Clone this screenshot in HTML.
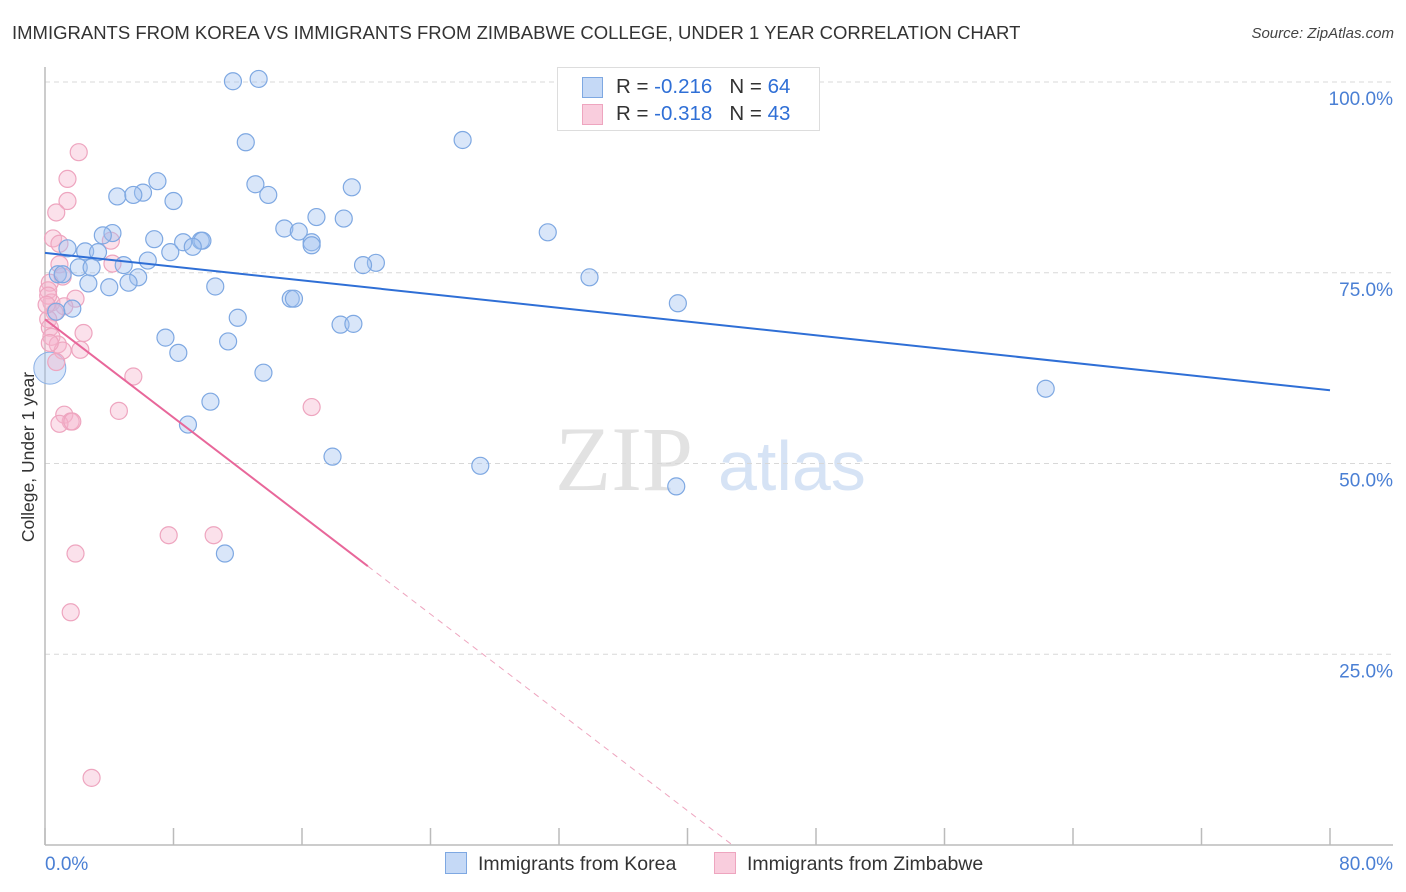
<!DOCTYPE html>
<html><head><meta charset="utf-8"><style>
body{margin:0;background:#fff;font-family:"Liberation Sans",sans-serif}
#wrap{position:relative;width:1406px;height:892px;overflow:hidden}
.t{position:absolute;white-space:nowrap}
</style></head><body><div id="wrap">
<div class="t" style="left:12px;top:22px;font-size:18.5px;color:#333">IMMIGRANTS FROM KOREA VS IMMIGRANTS FROM ZIMBABWE COLLEGE, UNDER 1 YEAR CORRELATION CHART</div>
<div class="t" style="right:12px;top:25px;font-size:15px;color:#444;font-style:italic">Source: ZipAtlas.com</div>
<svg id="svg" width="1406" height="892" style="position:absolute;left:0;top:0"></svg>
</div>
<script>
const koreaX=[11.7,13.3,12.5,26.0,13.1,13.9,19.1,7.0,6.1,4.5,5.5,8.0,16.9,18.6,14.9,15.8,16.6,16.6,31.3,6.8,8.6,9.7,9.8,9.2,4.2,3.6,1.4,2.5,3.3,7.8,6.4,20.6,19.8,33.9,2.1,2.9,4.9,0.8,1.1,5.8,2.7,5.2,4.0,10.6,15.3,15.5,39.4,1.7,0.7,12.0,18.4,19.2,7.5,11.4,8.3,13.6,62.3,10.3,8.9,17.9,27.1,39.3,11.2];
const koreaY=[100.1,100.4,92.1,92.4,86.6,85.2,86.2,87.0,85.5,85.0,85.2,84.4,82.3,82.1,80.8,80.4,79.0,78.6,80.3,79.4,79.0,79.2,79.2,78.4,80.2,79.9,78.2,77.8,77.7,77.7,76.6,76.3,76.0,74.4,75.7,75.7,76.0,74.8,74.8,74.4,73.6,73.7,73.1,73.2,71.6,71.6,71.0,70.3,69.9,69.1,68.2,68.3,66.5,66.0,64.5,61.9,59.8,58.1,55.1,50.9,49.7,47.0,38.2];
const zimX=[2.1,1.4,1.4,0.7,0.5,0.9,4.1,4.2,0.9,1.1,0.3,0.2,1.9,0.4,1.2,0.6,0.2,0.3,2.4,0.4,0.8,1.1,2.2,0.7,5.5,4.6,16.6,1.2,1.6,0.9,1.7,7.7,10.5,1.9,1.6,2.9,0.2,0.1,0.3];
const zimY=[90.8,87.3,84.4,82.9,79.5,78.8,79.2,76.2,76.1,74.5,73.7,72.7,71.6,71.1,70.6,69.8,68.9,67.8,67.1,66.6,65.6,64.8,64.9,63.3,61.4,56.9,57.4,56.4,55.5,55.2,55.5,40.6,40.6,38.2,30.5,8.8,72.0,70.8,65.8];
const koreaTrend=[77.6,59.6];
const zimTrend=[68.9,-1.61];
const yTicks=[25,50,75,100];
const yTickLabels=["25.0%","50.0%","75.0%","100.0%"];
const xTicks=[0,8,16,24,32,40,48,56,64,72,80];
const X0=45,X1=1330,Y0=845,Y1=82;
const sx=v=>X0+v*(X1-X0)/80, sy=v=>Y0-v*(Y0-Y1)/100;
const svg=document.getElementById('svg');const NS='http://www.w3.org/2000/svg';
function mk(t,a,p){const e=document.createElementNS(NS,t);for(const k in a)e.setAttribute(k,a[k]);(p||svg).appendChild(e);return e;}
let w=mk('text',{x:555,y:490,'font-size':92,'font-family':'Liberation Serif,serif',fill:'#e2e2e2'});w.textContent='ZIP';


w=mk('text',{x:718,y:490,'font-size':70,'font-family':'Liberation Sans,sans-serif',fill:'#d6e3f5'});w.textContent='atlas';


yTicks.forEach((v,i)=>{
 const g=mk('line',{x1:X0,x2:1393,y1:sy(v),y2:sy(v),stroke:'#d8d8d8','stroke-dasharray':'5,4'});
 
 
 const t=mk('text',{x:1393,y:sy(v)+23,'text-anchor':'end','font-size':19,fill:'#4a7fd4'});t.textContent=yTickLabels[i];
 
 
});
let ax=mk('line',{x1:X0,x2:X0,y1:67,y2:Y0,stroke:'#bbb','stroke-width':1.5});


ax=mk('line',{x1:X0,x2:1393,y1:Y0,y2:Y0,stroke:'#bbb','stroke-width':1.5});


xTicks.forEach(v=>{const l=mk('line',{x1:sx(v),x2:sx(v),y1:Y0,y2:Y0-17,stroke:'#bbb','stroke-width':1.5});
 
 });
let xl=mk('text',{x:45,y:870,'font-size':19,fill:'#4a7fd4'});xl.textContent='0.0%';


xl=mk('text',{x:1393,y:870,'text-anchor':'end','font-size':19,fill:'#4a7fd4'});xl.textContent='80.0%';


let yt=mk('text',{x:0,y:0,transform:'translate(34,457) rotate(-90)','text-anchor':'middle','font-size':17.5,fill:'#333'});yt.textContent='College, Under 1 year';


let big=mk('circle',{cx:sx(0.3),cy:sy(62.5),r:16,fill:'rgba(160,192,240,0.4)',stroke:'#8ab0e6'});


zimX.forEach((x,i)=>{const c=mk('circle',{cx:sx(x),cy:sy(zimY[i]),r:8.5,fill:'rgba(246,180,204,0.4)',stroke:'#eea5bf','stroke-width':1.2});
 
 });
koreaX.forEach((x,i)=>{const c=mk('circle',{cx:sx(x),cy:sy(koreaY[i]),r:8.5,fill:'rgba(160,192,240,0.4)',stroke:'#7ea8e2','stroke-width':1.2});
 
 });
let tl=mk('line',{x1:sx(0),y1:sy(koreaTrend[0]),x2:sx(80),y2:sy(koreaTrend[1]),stroke:'#2f6fd6','stroke-width':2});


const zx1=20.1,zx2=-zimTrend[0]/zimTrend[1];
tl=mk('line',{x1:sx(0),y1:sy(zimTrend[0]),x2:sx(zx1),y2:sy(zimTrend[0]+zimTrend[1]*zx1),stroke:'#e8679a','stroke-width':2});


tl=mk('line',{x1:sx(zx1),y1:sy(zimTrend[0]+zimTrend[1]*zx1),x2:sx(zx2),y2:sy(0),stroke:'#eea5bf','stroke-width':1,'stroke-dasharray':'6,5'});


</script>
<div class="t" style="left:557px;top:67px;width:261px;height:62px;border:1px solid #ddd;background:#fff;font-size:20.5px;color:#333">
 <div style="position:absolute;left:26px;top:7px"><span style="display:inline-block;width:19px;height:19px;background:#c5d9f6;border:1px solid #7ea8e2;position:absolute;left:-2px;top:2px"></span><span style="margin-left:32px">R = <span style="color:#2f6fd6">-0.216</span>&nbsp;&nbsp;&nbsp;N = <span style="color:#2f6fd6">64</span></span></div>
 <div style="position:absolute;left:26px;top:34px"><span style="display:inline-block;width:19px;height:19px;background:#f9cddd;border:1px solid #eea5bf;position:absolute;left:-2px;top:2px"></span><span style="margin-left:32px">R = <span style="color:#2f6fd6">-0.318</span>&nbsp;&nbsp;&nbsp;N = <span style="color:#2f6fd6">43</span></span></div>
</div>
<div class="t" style="left:445px;top:852px;font-size:19.5px;color:#333"><span style="display:inline-block;width:20px;height:20px;background:#c5d9f6;border:1px solid #7ea8e2;vertical-align:-4px;margin-right:11px"></span>Immigrants from Korea</div>
<div class="t" style="left:714px;top:852px;font-size:19.5px;color:#333"><span style="display:inline-block;width:20px;height:20px;background:#f9cddd;border:1px solid #eea5bf;vertical-align:-4px;margin-right:11px"></span>Immigrants from Zimbabwe</div>
</body></html>
